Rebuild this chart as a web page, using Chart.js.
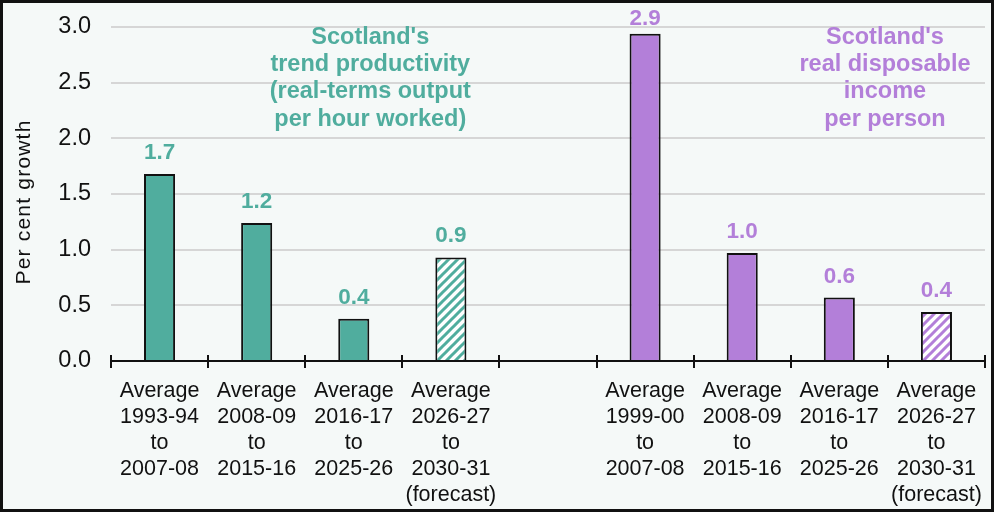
<!DOCTYPE html>
<html>
<head>
<meta charset="utf-8">
<script src="https://cdn.jsdelivr.net/npm/chart.js@4.4.1/dist/chart.umd.min.js"></script>
<style>
	html, body { margin: 0; padding: 0; background: #ffffff; }
	#box {
		width: 994px; height: 512px; box-sizing: border-box;
		border: 3px solid #111; background: #f5f9f8; position: relative;
	}
	#chart-area { display: block; }
</style>
</head>
<body>
<div id="box"><canvas id="chart-area" width="988" height="506"></canvas></div>
<script>
	//chart data
	var categories = [
		["Average", "1993-94", "to", "2007-08"],
		["Average", "2008-09", "to", "2015-16"],
		["Average", "2016-17", "to", "2025-26"],
		["Average", "2026-27", "to", "2030-31", "(forecast)"],
		[""],
		["Average", "1999-00", "to", "2007-08"],
		["Average", "2008-09", "to", "2015-16"],
		["Average", "2016-17", "to", "2025-26"],
		["Average", "2026-27", "to", "2030-31", "(forecast)"]
	];
	var productivity = [1.68, 1.24, 0.38, 0.93, null, null, null, null, null];
	var income = [null, null, null, null, null, 2.94, 0.97, 0.57, 0.44];
	var forecast = [false, false, false, true, false, false, false, false, true];
	var yTicks = [0, 0.5, 1.0, 1.5, 2.0, 2.5, 3.0];
	var productivityNote = ["Scotland's", "trend productivity", "(real-terms output", "per hour worked)"];
	var incomeNote = ["Scotland's", "real disposable", "income", "per person"];

	var TEAL = "#50ad9e";
	var PURPLE = "#b37fd9";
	var FONT = "'Liberation Sans', Arial, Helvetica, sans-serif";

	function init () {
		barChart();
	}

	function hatch (color) {
		var c = document.createElement('canvas');
		c.width = 9;
		c.height = 9;
		var p = c.getContext('2d');
		p.fillStyle = '#ffffff';
		p.fillRect(0, 0, 9, 9);
		p.strokeStyle = color;
		p.lineWidth = 3;
		p.beginPath();
		p.moveTo(-2, 11); p.lineTo(11, -2);
		p.moveTo(-11, 11); p.lineTo(2, -2);
		p.moveTo(7, 11); p.lineTo(20, -2);
		p.stroke();
		return p.createPattern(c, 'repeat');
	}

	function fills (values, color) {
		var out = [];
		for (var i = 0; i < values.length; i++) {
			out.push(forecast[i] ? hatch(color) : color);
		}
		return out;
	}

	// value labels, notes, cross ticks and y title
	var extras = {
		id: 'extras',
		afterDatasetsDraw: function (chart) {
			var ctx = chart.ctx;
			var area = chart.chartArea;
			var x = chart.scales.x;
			var y = chart.scales.y;
			ctx.save();

			// cross ticks on the category axis
			ctx.strokeStyle = '#111';
			ctx.lineWidth = 2;
			var step = (x.right - x.left) / categories.length;
			for (var i = 0; i <= categories.length; i++) {
				var tx = Math.round(x.left + i * step);
				ctx.beginPath();
				ctx.moveTo(tx, area.bottom - 6);
				ctx.lineTo(tx, area.bottom + 7);
				ctx.stroke();
			}

			// value labels
			ctx.font = 'bold 22.5px ' + FONT;
			ctx.textAlign = 'center';
			ctx.textBaseline = 'alphabetic';
			chart.data.datasets.forEach(function (ds, di) {
				var meta = chart.getDatasetMeta(di);
				ctx.fillStyle = ds.labelColor;
				meta.data.forEach(function (bar, j) {
					var v = ds.data[j];
					if (v === null) return;
					var ly = Math.max(bar.y - 15, area.top - 2);
					ctx.fillText(v.toFixed(1), bar.x, ly);
				});
			});

			// series notes
			ctx.font = 'bold 23.5px ' + FONT;
			ctx.textBaseline = 'middle';
			ctx.fillStyle = TEAL;
			var nx = x.getPixelForValue(2.17);
			var ny = y.getPixelForValue(2.91);
			productivityNote.forEach(function (line, k) {
				ctx.fillText(line, nx, ny + k * 27.4);
			});
			ctx.fillStyle = PURPLE;
			nx = x.getPixelForValue(7.47);
			incomeNote.forEach(function (line, k) {
				ctx.fillText(line, nx, ny + k * 27.4);
			});

			// y axis title
			ctx.fillStyle = '#111';
			ctx.font = '21px ' + FONT;
			ctx.letterSpacing = '1.2px';
			ctx.translate(21, (area.top + area.bottom) / 2 + 8);
			ctx.rotate(-Math.PI / 2);
			ctx.fillText('Per cent growth', 0, 0);
			ctx.restore();
		}
	};

	function barChart () {
		var config = {
			type: 'bar',
			data: {
				labels: categories,
				datasets: [{
					label: 'Trend productivity',
					data: productivity,
					backgroundColor: fills(productivity, TEAL),
					labelColor: TEAL,
					borderColor: '#111',
					borderWidth: 2,
					borderSkipped: 'bottom',
					grouped: false,
					barPercentage: 0.32,
					categoryPercentage: 1
				}, {
					label: 'Real disposable income',
					data: income,
					backgroundColor: fills(income, PURPLE),
					labelColor: PURPLE,
					borderColor: '#111',
					borderWidth: 2,
					borderSkipped: 'bottom',
					grouped: false,
					barPercentage: 0.32,
					categoryPercentage: 1
				}]
			},
			options: {
				responsive: false,
				animation: false,
				layout: { padding: { top: 24, right: 3, left: 0, bottom: 0 } },
				plugins: {
					legend: { display: false },
					tooltip: { enabled: false }
				},
				scales: {
					x: {
						grid: { display: false },
						border: { display: true, color: '#111', width: 2 },
						ticks: {
							color: '#111',
							font: { family: FONT, size: 21.5, lineHeight: 1.21 },
							padding: 9,
							maxRotation: 0,
							autoSkip: false
						},
						afterFit: function (scale) { scale.height = 148; }
					},
					y: {
						min: 0,
						max: 3,
						afterBuildTicks: function (scale) {
							scale.ticks = yTicks.map(function (v) { return { value: v }; });
						},
						grid: { color: '#d6d6d6', lineWidth: 2, drawTicks: false },
						border: { display: false },
						ticks: {
							color: '#111',
							font: { family: FONT, size: 23.5 },
							padding: 20,
							callback: function (v) { return Number(v).toFixed(1); }
						},
						afterFit: function (scale) {
							scale.width = 108;
							scale.paddingTop = 0;
							scale.paddingBottom = 0;
						}
					}
				}
			},
			plugins: [extras]
		};

		var ctx = document.getElementById("chart-area").getContext("2d");
		window.myBar = new Chart(ctx, config);
	}

	init();
</script>
</body>
</html>
